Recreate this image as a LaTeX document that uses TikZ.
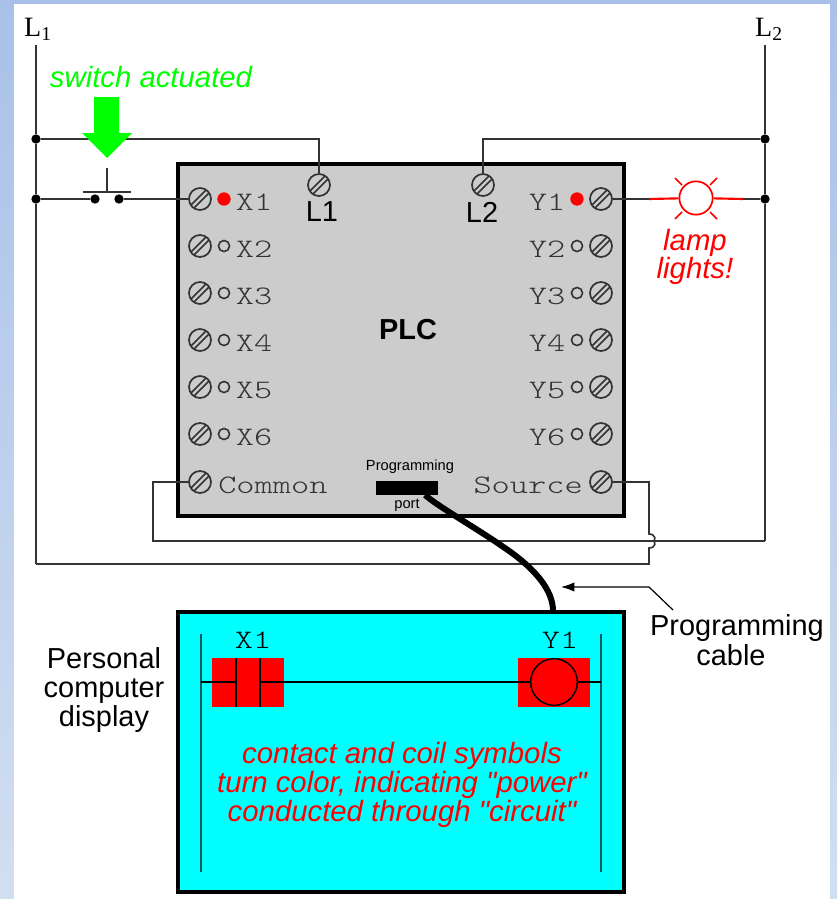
\documentclass[tikz,border=0pt]{standalone}
\usepackage{fontspec}
\setmainfont{Liberation Sans}
\newfontfamily\plainsans{Liberation Sans}
\newfontfamily\serifL{Liberation Serif}
\newfontfamily\crr[FakeStretch=1.3]{Latin Modern Mono Light}
\usetikzlibrary{arrows.meta}
\definecolor{wirecol}{HTML}{333333}
\definecolor{termtext}{HTML}{333333}
\definecolor{pccyan}{HTML}{00FFFF}
\definecolor{bgtop}{HTML}{A9C1E8}
\definecolor{bgbot}{HTML}{D2DEF1}
\definecolor{railcol}{HTML}{005A5A}
\tikzset{
  wire/.style={draw=wirecol,line width=1.5pt},
  thinwire/.style={draw=wirecol,line width=1.2pt},
  junction/.style={circle,fill=black,inner sep=0pt,minimum size=7pt},
  contactdot/.style={circle,fill=black,inner sep=0pt,minimum size=7pt},
  screw/.style={circle,draw=wirecol,fill=none,line width=1.3pt,inner sep=0pt,minimum size=16.5pt,
    path picture={
      \draw[wirecol,line width=1.2pt]
        ([xshift=-6.8pt,yshift=-4.5pt]path picture bounding box.center)--([xshift=4.5pt,yshift=6.8pt]path picture bounding box.center)
        ([xshift=-4.5pt,yshift=-6.8pt]path picture bounding box.center)--([xshift=6.8pt,yshift=4.5pt]path picture bounding box.center);
    }},
  ledoff/.style={circle,draw=wirecol,fill=none,line width=1.2pt,inner sep=0pt,minimum size=8.3pt},
  ledon/.style={circle,fill=red,inner sep=0pt,minimum size=10pt},
  term/.style={font=\crr\fontsize{20}{22}\selectfont,text=termtext,inner sep=0pt},
  sanslabel/.style={font=\fontsize{21.7}{22}\selectfont,text=black,inner sep=0pt,align=center},
  redlabel/.style={font=\plainsans\itshape\fontsize{22}{22}\selectfont,text=red,inner sep=0pt,align=center},
  tiny/.style={font=\fontsize{11}{12}\selectfont,text=black,inner sep=0pt},
  railline/.style={draw=railcol,line width=1.4pt},
  rung/.style={draw=black,line width=1.1pt},
}
\begin{document}
\begin{tikzpicture}[x=0.75pt,y=-0.75pt]
\useasboundingbox (0,0) rectangle (837,899);
\shade[top color=bgtop, bottom color=bgbot] (0,0) rectangle (837,899);
\fill[white] (14,4) rectangle (830,899);

% PLC box
\node[draw=black,line width=3pt,fill=black!20,minimum width=334.5pt,minimum height=264pt,inner sep=0pt] (plc) at (401,340) {};
\node[font=\bfseries\fontsize{21.7}{23}\selectfont,inner sep=0pt] (plclabel) at (408,330) {PLC};

% Rail labels
\node[font=\serifL\fontsize{21}{23}\selectfont,inner sep=0pt] (l1label) at (38,29) {L\textsubscript{1}};
\node[font=\serifL\fontsize{21}{23}\selectfont,inner sep=0pt] (l2label) at (769,29) {L\textsubscript{2}};
\coordinate (l1top) at (36,45);
\coordinate (l2top) at (765,45);
\node[junction] (j1a) at (36,139) {};
\node[junction] (j1b) at (36,199) {};
\node[junction] (j2a) at (765,139) {};
\node[junction] (j2b) at (765,199) {};
\coordinate (l1bot) at (36,564);
\coordinate (l2bot) at (765,541);

% Terminals
\foreach \n/\y in {1/199,2/246,3/293,4/340,5/387,6/434}{
  \node[screw] (x\n) at (200,\y) {};
  \node[screw] (y\n) at (601,\y) {};
  \node[term] (xt\n) at (254,\y+3) {X\n};
  \node[term] (yt\n) at (547,\y+3) {Y\n};
}
\node[ledon] (xd1) at (224,199) {};
\node[ledon] (yd1) at (577,199) {};
\foreach \n/\y in {2/246,3/293,4/340,5/387,6/434}{
  \node[ledoff] (xd\n) at (224,\y) {};
  \node[ledoff] (yd\n) at (577,\y) {};
}
\node[screw] (com) at (200,482) {};
\node[screw] (src) at (601,482) {};
\node[term,anchor=west] (comt) at (218,485) {Common};
\node[term,anchor=east] (srct) at (583,485) {Source};
\node[screw] (tl1) at (319,185) {};
\node[screw] (tl2) at (483,185) {};
\node[sanslabel] (tl1t) at (322,212) {L1};
\node[sanslabel] (tl2t) at (482,212) {L2};

% Power rails
\draw[wire] (l1top) -- (j1a) -- (j1b) -- (l1bot);
\draw[wire] (l2top) -- (j2a) -- (j2b) -- (l2bot);
\draw[wire] (j1a) -| (tl1);
\draw[wire] (j2a) -| (tl2);

% Common / source wiring
\coordinate (comc) at (153,482);
\coordinate (comb) at (153,541);
\coordinate (srcc) at (649,482);
\coordinate (srcb) at (649,564);
\draw[thinwire] (com) -- (comc) -- (comb) -- (l2bot);
\draw[thinwire] (src) -- (srcc) -- (649,534) .. controls (656,534) and (656,541) .. (653,541) .. controls (656,541) and (656,548) .. (649,548) -- (srcb) -- (l1bot);

% Switch
\node[contactdot] (sw1) at (95,199) {};
\node[contactdot] (sw2) at (119,199) {};
\coordinate (barl) at (83,192);
\coordinate (barr) at (131,192);
\coordinate (stemt) at (107,168);
\coordinate (stemb) at (107,192);
\draw[wire] (j1b) -- (sw1);
\draw[wire] (sw2) -- (x1);
\draw[wire] (barl) -- (barr);
\draw[wire] (stemt) -- (stemb);
\fill[green] (94,97) -- (119,97) -- (119,133) -- (132,133) -- (107,158) -- (82,133) -- (94,133) -- cycle;
\node[font=\itshape\fontsize{22}{23}\selectfont,text=green,inner sep=0pt] (swl) at (151,77) {switch actuated};

% Lamp
\node[circle,draw=red,fill=white,line width=1.3pt,inner sep=0pt,minimum size=25pt] (lamp) at (696,198) {};
\coordinate (lampl) at (649,199);
\coordinate (lampr) at (743,199);
\draw[wire] (y1) -- (lampl);
\draw[wire] (lampr) -- (j2b);
\draw[red,line width=1.6pt] (lampl) -- (lamp);
\draw[red,line width=1.6pt] (lamp) -- (lampr);
\draw[red,line width=1.3pt] (675,178) -- (682,185) (717,178) -- (710,185) (675,219) -- (682,212) (717,219) -- (710,212);
\node[redlabel,font=\plainsans\itshape\fontsize{22}{20}\selectfont] (lampt) at (695,257) {lamp\\lights!};

% Programming port
\node[fill=black,minimum width=46pt,minimum height=11pt,inner sep=0pt] (port) at (407,488) {};
\node[tiny] (pp1) at (410,467) {Programming};
\node[tiny] (pp2) at (407,505) {port};

% PC display
\node[draw=black,line width=3pt,fill=pccyan,minimum width=334.5pt,minimum height=210pt,inner sep=0pt] (pc) at (401,752) {};
\coordinate (pcin) at (553,611);
\coordinate (portout) at (425,495);
\draw[black,line width=4.5pt] (portout) .. controls (440,508) and (480,530) .. (512,553) .. controls (535,570) and (553,590) .. (pcin);

\coordinate (ra) at (201,634);
\coordinate (rb) at (201,872);
\coordinate (rc) at (601,634);
\coordinate (rd) at (601,872);
\draw[railline] (ra) -- (rb);
\draw[railline] (rc) -- (rd);
\node[fill=red,minimum width=54pt,minimum height=37pt,inner sep=0pt] (xsym) at (248,682.5) {};
\node[fill=red,minimum width=54pt,minimum height=37pt,inner sep=0pt] (ysym) at (554,682.5) {};
\coordinate (rl) at (201,682);
\coordinate (rr) at (601,682);
\coordinate (cl) at (236,682);
\coordinate (cr) at (260,682);
\draw[rung] (rl) -- (cl);
\draw[rung] (cr) -- (rr);
\draw[black,line width=1.1pt] (236,658) -- (236,707) (260,658) -- (260,707);
\node[circle,draw=black,fill=red,line width=1.1pt,inner sep=0pt,minimum size=35pt] (coil) at (554,682) {};
\node[term,text=black] (xl) at (253,640) {X1};
\node[term,text=black] (yl) at (560,640) {Y1};
\node[redlabel] (note) at (402,785) {contact and coil symbols\\turn color, indicating "power"\\conducted through "circuit"};

% Outside labels
\node[sanslabel] (pclabel) at (104,690) {Personal\\computer\\display};
\node[sanslabel] (cablelabel) at (737,640) {Programming\\cable\hspace*{9pt}};
\coordinate (arrtip) at (561,587);
\coordinate (arrelbow) at (649,587);
\coordinate (arrend) at (673,610);
\draw[black,line width=0.9pt,-{Latex[length=10pt,width=7pt]}] (arrend) -- (arrelbow) -- (arrtip);
\end{tikzpicture}
\end{document}
